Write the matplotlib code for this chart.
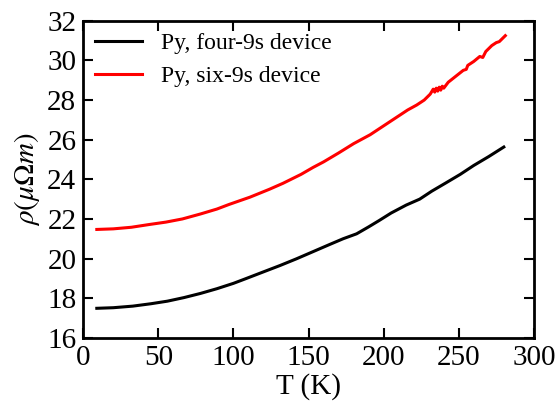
import numpy as np
import matplotlib
matplotlib.use('Agg')
import matplotlib.pyplot as plt

plt.rcParams['font.family'] = 'Liberation Serif'
plt.rcParams['mathtext.fontset'] = 'stix'

# four-9s device (black)
t_four = [9, 20, 33, 45, 56, 67, 78, 89, 100, 108, 120, 131, 142, 153, 164, 173,
          182, 190, 197, 205, 215, 224, 232, 241, 251, 260, 270, 280]
rho_four = [17.49, 17.52, 17.6, 17.72, 17.85, 18.03, 18.24, 18.48, 18.75, 18.98,
            19.33, 19.65, 19.99, 20.35, 20.71, 21.0, 21.25, 21.6, 21.92, 22.3,
            22.7, 23.0, 23.4, 23.8, 24.25, 24.7, 25.15, 25.63]

# six-9s device (red)
t_six = [9, 20, 32, 44, 55, 66, 78, 89, 97, 111, 124, 133, 145, 153, 160, 170,
         180, 191, 200, 208, 216, 222, 227, 231, 233, 234, 235, 236, 237, 238,
         239, 240, 243, 248, 253, 255, 256, 260, 264, 266, 268, 272, 275, 277,
         279, 281]
rho_six = [21.47, 21.5, 21.58, 21.72, 21.84, 22.0, 22.25, 22.5, 22.73, 23.1,
           23.5, 23.8, 24.25, 24.6, 24.88, 25.33, 25.8, 26.25, 26.7, 27.1,
           27.5, 27.75, 28.0, 28.3, 28.55, 28.4, 28.6, 28.45, 28.65, 28.5,
           28.7, 28.6, 28.9, 29.2, 29.5, 29.55, 29.75, 29.95, 30.2, 30.15,
           30.45, 30.75, 30.9, 30.95, 31.1, 31.25]

fig = plt.figure(figsize=(5.59, 4.08), dpi=100)
ax = fig.add_axes([0.149, 0.172, 0.806, 0.777])

ax.plot(t_four, rho_four, color='black', lw=2.2, label='Py, four-9s device')
ax.plot(t_six, rho_six, color='red', lw=2.2, label='Py, six-9s device')

ax.set_xlim(0, 300)
ax.set_ylim(16, 32)
ax.set_xticks(np.arange(0, 301, 50))
ax.set_yticks(np.arange(16, 33, 2))
ax.tick_params(direction='in', top=True, right=True, length=7, width=1.5,
               labelsize=21, pad=5)
for s in ax.spines.values():
    s.set_linewidth(2)

ax.set_xlabel('T (K)', fontsize=21, labelpad=2)
ax.set_ylabel(r'$\rho(\mu\Omega m)$', fontsize=21, labelpad=4)

ax.legend(loc='upper left', frameon=False, fontsize=17, handlelength=2.0,
          handletextpad=0.8, borderaxespad=0.35, borderpad=0.15,
          labelspacing=0.5)

fig.savefig('out.png', dpi=100)
